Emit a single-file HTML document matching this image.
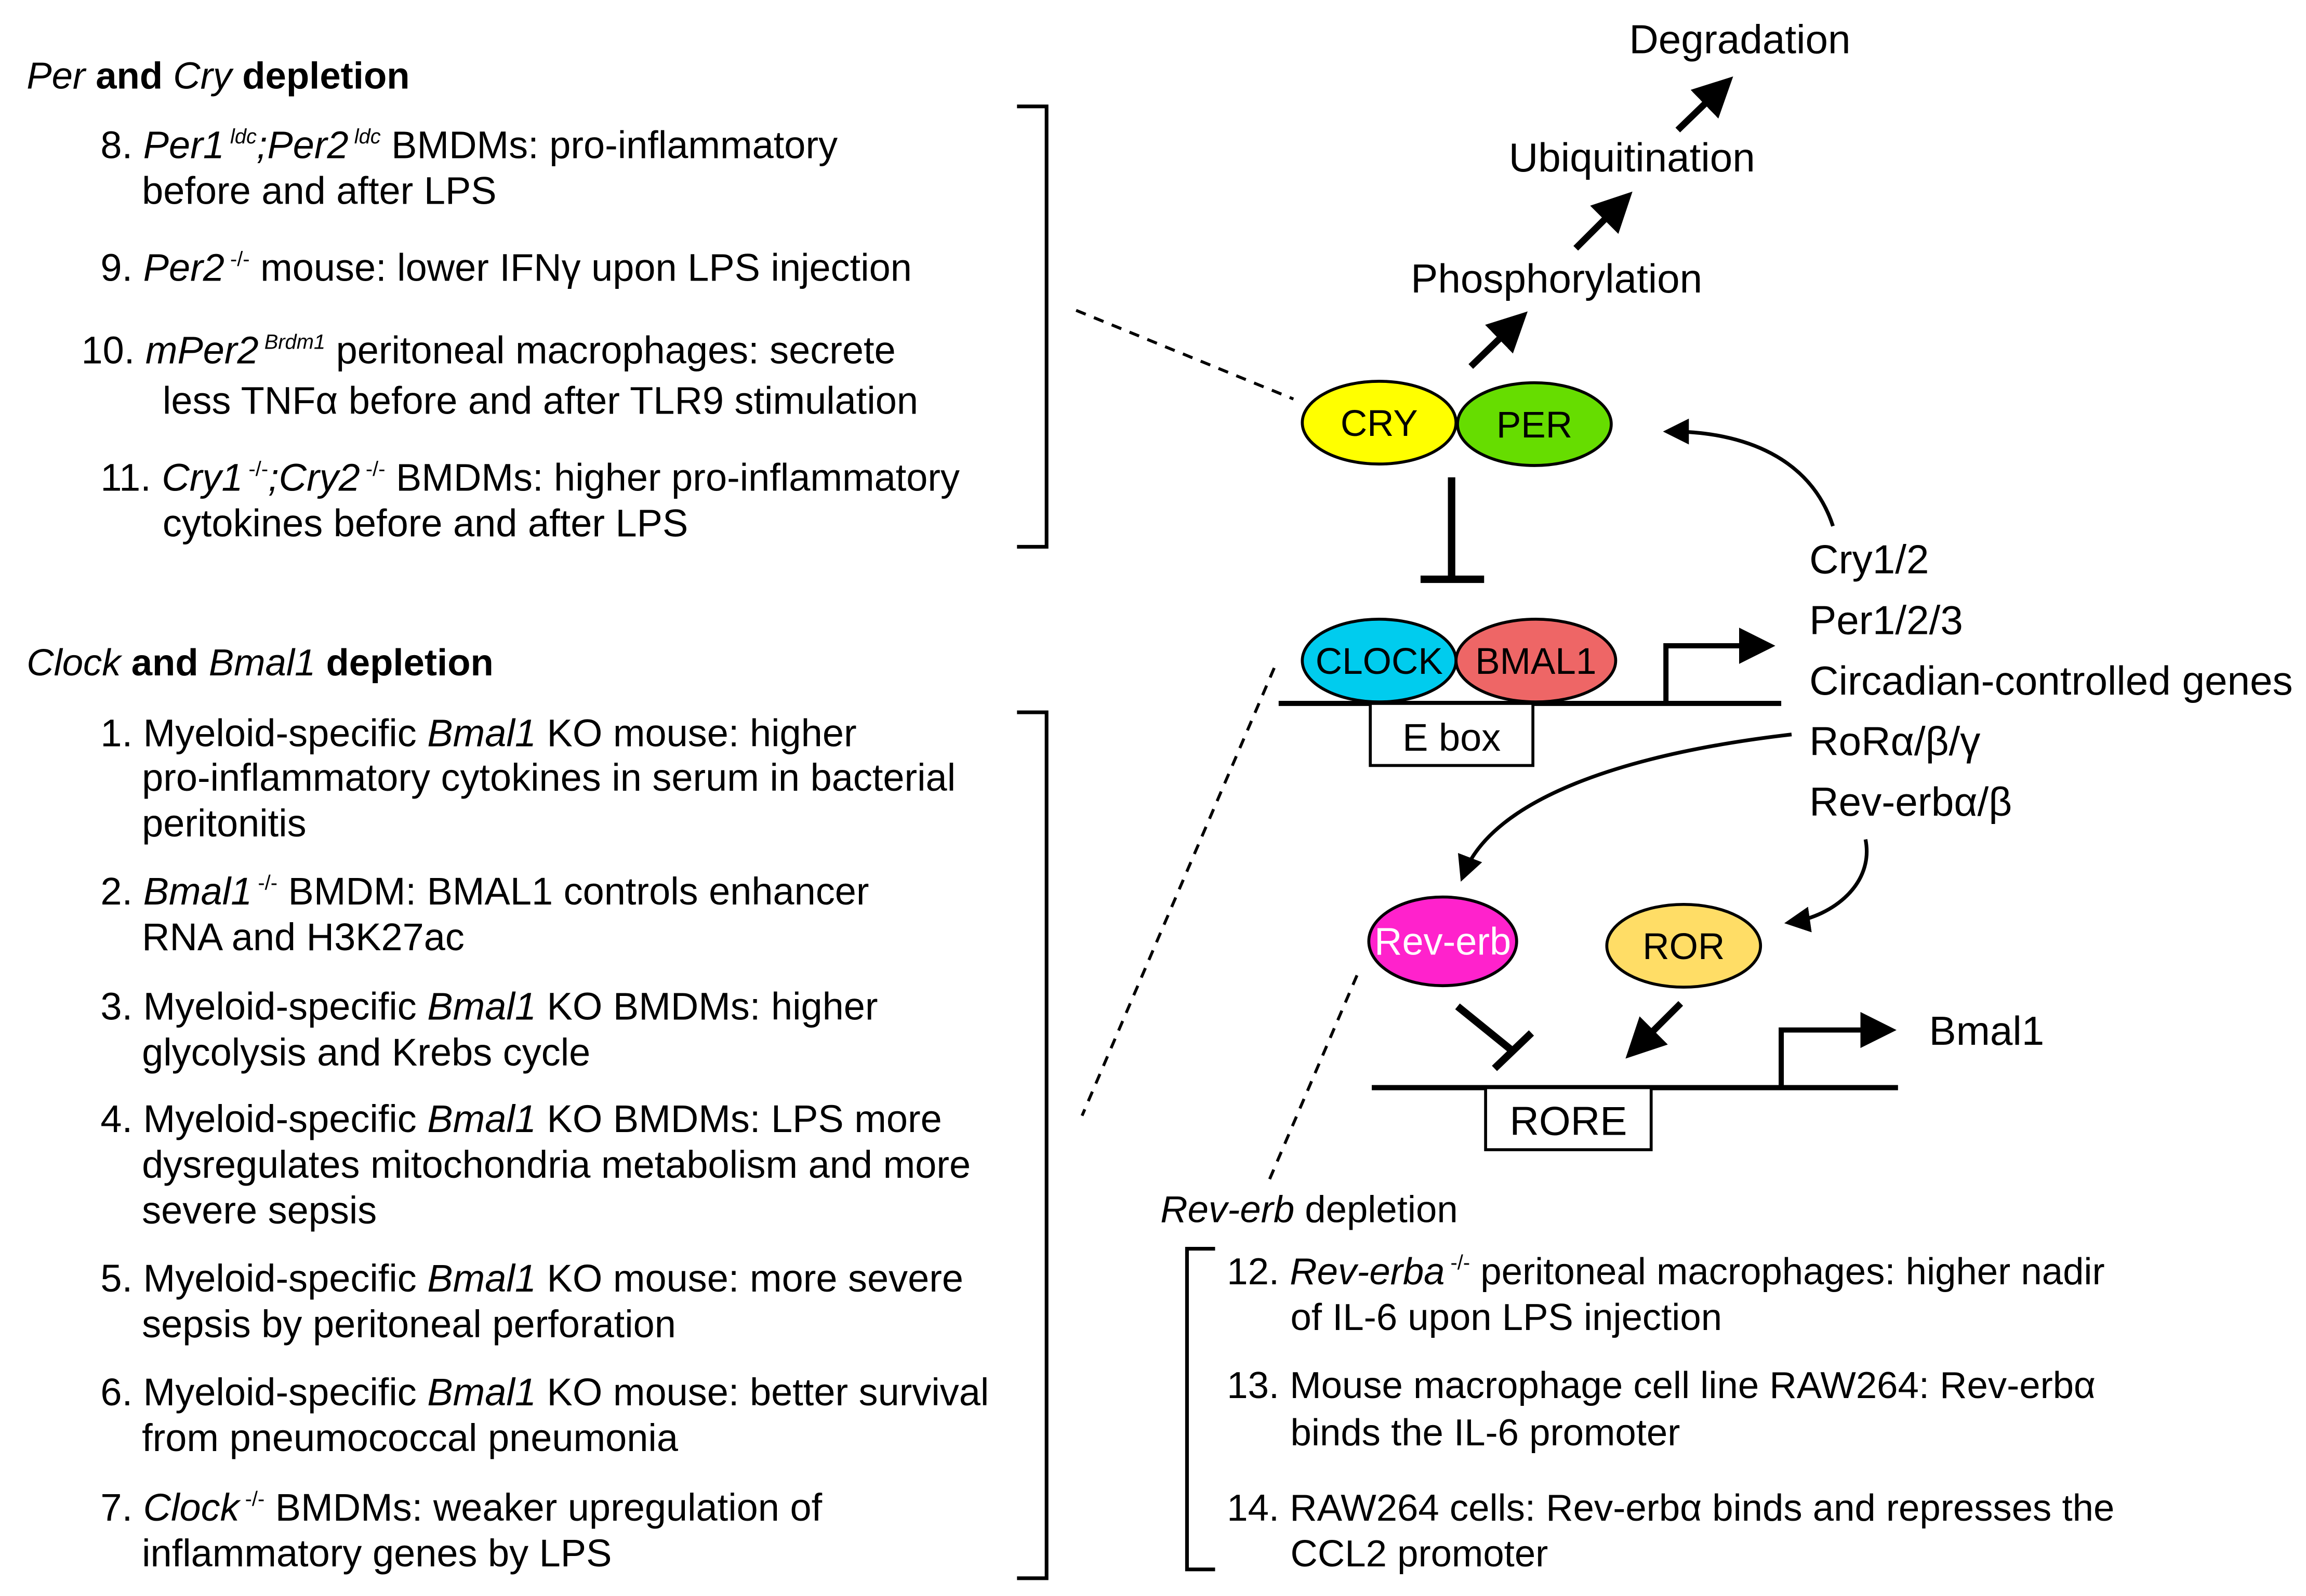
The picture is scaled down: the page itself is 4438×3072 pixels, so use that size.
<!DOCTYPE html>
<html><head><meta charset="utf-8"><style>
html,body{margin:0;padding:0;background:#fff;}
svg{display:block;}
text{font-family:"Liberation Sans",Arial,sans-serif;fill:#000;}
.t{font-size:26px;}
.u{font-size:25.5px;}
.h{font-size:25.5px;}
.b{font-weight:bold;}
.s{font-size:14px;}
.r{font-size:27.5px;}
.e{font-size:25px;}
</style></head><body>
<svg width="4438" height="3072" viewBox="0 0 1560 1080" preserveAspectRatio="none" xmlns="http://www.w3.org/2000/svg">
<defs>
<marker id="ah" markerWidth="6" markerHeight="6" refX="4" refY="3" orient="auto" markerUnits="strokeWidth">
<path d="M0,0 L6,3 L0,6 z" fill="#000"/></marker>
<marker id="ah2" markerWidth="7" markerHeight="7" refX="5" refY="3.5" orient="auto" markerUnits="strokeWidth">
<path d="M0,0 L7,3.5 L0,7 z" fill="#000"/></marker>
</defs>

<text x="18" y="60" class="h"><tspan font-style="italic">Per</tspan><tspan class="b"> and </tspan><tspan font-style="italic">Cry</tspan><tspan class="b"> depletion</tspan></text>
<text x="68" y="107" class="t">8. <tspan font-style="italic">Per1</tspan><tspan class="s" dy="-10" font-style="italic"> ldc</tspan><tspan dy="10" font-style="italic">;Per2</tspan><tspan class="s" dy="-10" font-style="italic"> ldc</tspan><tspan dy="10"> BMDMs: pro-inflammatory</tspan></text>
<text x="96" y="138" class="t">before and after LPS</text>
<text x="68" y="190" class="t">9. <tspan font-style="italic">Per2</tspan><tspan class="s" dy="-10"> -/-</tspan><tspan dy="10"> mouse: lower IFNγ upon LPS injection</tspan></text>
<text x="55" y="246" class="t">10. <tspan font-style="italic">mPer2</tspan><tspan class="s" dy="-10" font-style="italic"> Brdm1</tspan><tspan dy="10"> peritoneal macrophages: secrete</tspan></text>
<text x="110" y="280" class="t">less TNFα before and after TLR9 stimulation</text>
<text x="68" y="332" class="t">11. <tspan font-style="italic">Cry1</tspan><tspan class="s" dy="-10"> -/-</tspan><tspan dy="10" font-style="italic">;Cry2</tspan><tspan class="s" dy="-10"> -/-</tspan><tspan dy="10"> BMDMs: higher pro-inflammatory</tspan></text>
<text x="110" y="363" class="t">cytokines before and after LPS</text>
<path d="M688,72 H708 V370 H688" fill="none" stroke="#000" stroke-width="2.5"/>
<line x1="728" y1="210" x2="875" y2="270" stroke="#000" stroke-width="2" stroke-dasharray="7,6"/>

<text x="18" y="457" class="h"><tspan font-style="italic">Clock</tspan><tspan class="b"> and </tspan><tspan font-style="italic">Bmal1</tspan><tspan class="b"> depletion</tspan></text>
<text x="68" y="505" class="t">1. Myeloid-specific <tspan font-style="italic">Bmal1</tspan> KO mouse: higher</text>
<text x="96" y="535" class="t">pro-inflammatory cytokines in serum in bacterial</text>
<text x="96" y="566" class="t">peritonitis</text>
<text x="68" y="612" class="t">2. <tspan font-style="italic">Bmal1</tspan><tspan class="s" dy="-10"> -/-</tspan><tspan dy="10"> BMDM: BMAL1 controls enhancer</tspan></text>
<text x="96" y="643" class="t">RNA and H3K27ac</text>
<text x="68" y="690" class="t">3. Myeloid-specific <tspan font-style="italic">Bmal1</tspan> KO BMDMs: higher</text>
<text x="96" y="721" class="t">glycolysis and Krebs cycle</text>
<text x="68" y="766" class="t">4. Myeloid-specific <tspan font-style="italic">Bmal1</tspan> KO BMDMs: LPS more</text>
<text x="96" y="797" class="t">dysregulates mitochondria metabolism and more</text>
<text x="96" y="828" class="t">severe sepsis</text>
<text x="68" y="874" class="t">5. Myeloid-specific <tspan font-style="italic">Bmal1</tspan> KO mouse: more severe</text>
<text x="96" y="905" class="t">sepsis by peritoneal perforation</text>
<text x="68" y="951" class="t">6. Myeloid-specific <tspan font-style="italic">Bmal1</tspan> KO mouse: better survival</text>
<text x="96" y="982" class="t">from pneumococcal pneumonia</text>
<text x="68" y="1029" class="t">7. <tspan font-style="italic">Clock</tspan><tspan class="s" dy="-10"> -/-</tspan><tspan dy="10"> BMDMs: weaker upregulation of</tspan></text>
<text x="96" y="1060" class="t">inflammatory genes by LPS</text>
<path d="M688,482 H708 V1068 H688" fill="none" stroke="#000" stroke-width="2.5"/>
<line x1="862" y1="452" x2="732" y2="755" stroke="#000" stroke-width="2" stroke-dasharray="7,6"/>

<text x="1177" y="36" class="r" text-anchor="middle">Degradation</text>
<text x="1104" y="116" class="r" text-anchor="middle">Ubiquitination</text>
<text x="1053" y="198" class="r" text-anchor="middle">Phosphorylation</text>
<line x1="1135" y1="88" x2="1166" y2="58" stroke="#000" stroke-width="4.5" marker-end="url(#ah)"/>
<line x1="1066" y1="168" x2="1098" y2="136" stroke="#000" stroke-width="4.5" marker-end="url(#ah)"/>
<line x1="995" y1="248" x2="1027" y2="217" stroke="#000" stroke-width="4.5" marker-end="url(#ah)"/>

<ellipse cx="933" cy="286" rx="52" ry="28" fill="#ffff00" stroke="#000" stroke-width="2"/>
<ellipse cx="1038" cy="287" rx="52" ry="28" fill="#66dd00" stroke="#000" stroke-width="2"/>
<text x="933" y="295" class="e" text-anchor="middle">CRY</text>
<text x="1038" y="296" class="e" text-anchor="middle">PER</text>

<path d="M982,323 V392 M961,392 H1004" stroke="#000" stroke-width="5" fill="none"/>

<ellipse cx="933" cy="447" rx="52" ry="28" fill="#00ccee" stroke="#000" stroke-width="2"/>
<ellipse cx="1039" cy="447" rx="54" ry="28" fill="#ee6666" stroke="#000" stroke-width="2"/>
<text x="933" y="456" class="e" text-anchor="middle">CLOCK</text>
<text x="1039" y="456" class="e" text-anchor="middle">BMAL1</text>
<line x1="865" y1="476" x2="1205" y2="476" stroke="#000" stroke-width="3.5"/>
<rect x="927" y="476" width="110" height="42" fill="#fff" stroke="#000" stroke-width="2"/>
<text x="982" y="508" font-size="26" text-anchor="middle">E box</text>
<path d="M1127,476 V437 H1194" stroke="#000" stroke-width="3.5" fill="none" marker-end="url(#ah2)"/>

<text x="1224" y="388" class="r">Cry1/2</text>
<text x="1224" y="429" class="r">Per1/2/3</text>
<text x="1224" y="470" class="r">Circadian-controlled genes</text>
<text x="1224" y="511" class="r">RoRα/β/γ</text>
<text x="1224" y="552" class="r">Rev-erbα/β</text>

<path d="M1240,356 C1225,310 1180,292 1130,292" stroke="#000" stroke-width="2.5" fill="none" marker-end="url(#ah2)"/>
<path d="M1212,497 C1100,510 1010,540 990,592" stroke="#000" stroke-width="2.5" fill="none" marker-end="url(#ah2)"/>
<path d="M1262,568 C1268,598 1240,620 1212,624" stroke="#000" stroke-width="2.5" fill="none" marker-end="url(#ah2)"/>

<ellipse cx="976" cy="637" rx="50" ry="30" fill="#ff22cc" stroke="#000" stroke-width="2"/>
<text x="976" y="646" class="t" text-anchor="middle" style="fill:#fff">Rev-erb</text>
<ellipse cx="1139" cy="640" rx="52" ry="28" fill="#ffdd66" stroke="#000" stroke-width="2"/>
<text x="1139" y="649" class="e" text-anchor="middle">ROR</text>

<path d="M986,681 L1023,711 M1011,723 L1036,699" stroke="#000" stroke-width="5" fill="none"/>
<line x1="1137" y1="679" x2="1106" y2="710" stroke="#000" stroke-width="4.5" marker-end="url(#ah)"/>

<line x1="928" y1="736" x2="1284" y2="736" stroke="#000" stroke-width="3.5"/>
<rect x="1005" y="736" width="112" height="42" fill="#fff" stroke="#000" stroke-width="2"/>
<text x="1061" y="768" class="r" text-anchor="middle">RORE</text>
<path d="M1205,736 V697 H1276" stroke="#000" stroke-width="3.5" fill="none" marker-end="url(#ah2)"/>
<text x="1305" y="707" class="r">Bmal1</text>

<line x1="918" y1="660" x2="858" y2="800" stroke="#000" stroke-width="2" stroke-dasharray="7,6"/>

<text x="785" y="827" class="u"><tspan font-style="italic">Rev-erb</tspan> depletion</text>
<path d="M822,845 H803 V1062 H822" fill="none" stroke="#000" stroke-width="2.5"/>
<text x="830" y="869" class="u">12. <tspan font-style="italic">Rev-erba</tspan><tspan class="s" dy="-10"> -/-</tspan><tspan dy="10"> peritoneal macrophages: higher nadir</tspan></text>
<text x="873" y="900" class="u">of IL-6 upon LPS injection</text>
<text x="830" y="946" class="u">13. Mouse macrophage cell line RAW264: Rev-erbα</text>
<text x="873" y="978" class="u">binds the IL-6 promoter</text>
<text x="830" y="1029" class="u">14.  RAW264 cells: Rev-erbα binds and represses the</text>
<text x="873" y="1060" class="u">CCL2 promoter</text>
</svg>
</body></html>
